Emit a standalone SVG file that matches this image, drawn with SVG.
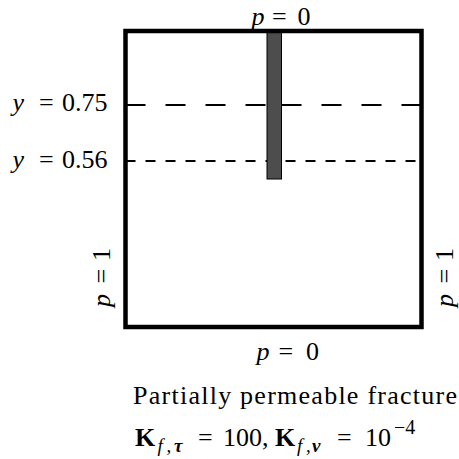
<svg xmlns="http://www.w3.org/2000/svg" width="459" height="459" viewBox="0 0 459 459">
<style>
.t{font-family:"Liberation Serif","DejaVu Serif",serif;font-size:26px;fill:#000}
.i{font-style:italic}
.b{font-weight:bold}
.s{font-size:19px}
.frame{fill:none;stroke:#000;stroke-width:4.5}
.dash{stroke:#000;stroke-width:2.2;stroke-dasharray:20 20;fill:none}
.dot{stroke:#000;stroke-width:2.2;stroke-dasharray:10 10;fill:none}
.frac{fill:#4d4d4d;stroke:#000;stroke-width:1}
</style>
<rect width="459" height="459" fill="#fff"/>
<g id="connectors">
  <line class="dash" x1="125.5" y1="105" x2="267" y2="105"/>
  <line class="dash" x1="281.5" y1="105" x2="421.5" y2="105"/>
  <line class="dot" x1="125.5" y1="161" x2="421.5" y2="161"/>
</g>
<g id="fracture">
  <rect class="frac" x="267" y="31" width="14.5" height="148"/>
</g>
<g id="domain">
  <rect class="frame" x="125.5" y="31" width="296" height="296"/>
</g>
<g id="labels">
  <text class="t" y="110.5"><tspan x="12.5" class="i">y</tspan> <tspan x="39">=</tspan> <tspan x="62">0.75</tspan></text>
  <text class="t" y="167.5"><tspan x="12.5" class="i">y</tspan> <tspan x="39">=</tspan> <tspan x="62">0.56</tspan></text>
  <text class="t" y="25"><tspan x="251.5" class="i">p</tspan> <tspan x="272">=</tspan> <tspan x="297.5">0</tspan></text>
  <text class="t" y="360"><tspan x="256.5" class="i">p</tspan> <tspan x="278.5">=</tspan> <tspan x="306">0</tspan></text>
  <text class="t" transform="translate(109.5,277) rotate(-90)"><tspan x="-30" class="i">p</tspan> <tspan x="-6.5">=</tspan> <tspan x="16">1</tspan></text>
  <text class="t" transform="translate(452.5,277) rotate(-90)"><tspan x="-30" class="i">p</tspan> <tspan x="-6.5">=</tspan> <tspan x="16">1</tspan></text>
  <text class="t" x="133" y="404" textLength="324" lengthAdjust="spacing">Partially permeable fracture</text>
  <text class="t" y="446"><tspan x="135" class="b">K</tspan><tspan x="157.5" dy="6" class="s i">f</tspan><tspan x="166.5" class="s">,</tspan><tspan x="174" class="s b i">τ</tspan> <tspan x="198" dy="-6">=</tspan> <tspan x="223">100,</tspan> <tspan x="275" class="b">K</tspan><tspan x="297" dy="6" class="s i">f</tspan><tspan x="306" class="s">,</tspan><tspan x="312" class="s b i">ν</tspan> <tspan x="337" dy="-6">=</tspan> <tspan x="365">10</tspan><tspan x="394" dy="-12" style="font-size:20px">−4</tspan></text>
</g>
</svg>
